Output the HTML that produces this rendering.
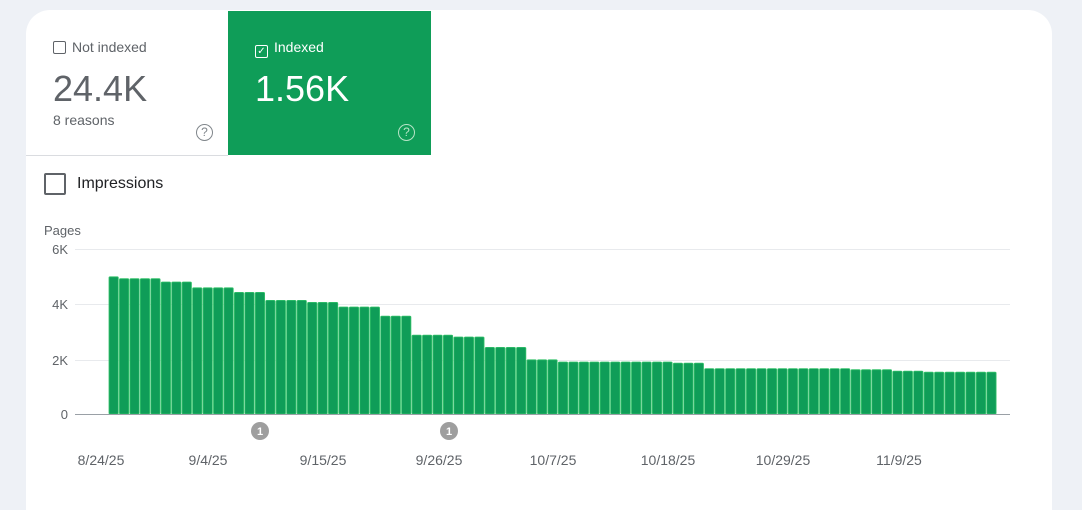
<!DOCTYPE html>
<html><head><style>
html,body{margin:0;padding:0;width:1082px;height:492px;background:#eef1f6;overflow:hidden;font-family:"Liberation Sans",Arial,sans-serif}
.card{position:absolute;left:26px;top:10px;width:1026px;height:500px;background:#fff;border-radius:24px 24px 0 0;overflow:hidden}
.tab{position:absolute;top:1px;height:144px;width:202px}
.t1{left:0;border-bottom:1px solid #dadce0;height:144px;width:202px}
.t2{left:202px;background:#0f9d58;color:#fff;width:203px}
.lbl{position:absolute;left:27px;top:28px;font-size:14px;color:#5f6368}
.cb{display:inline-block;width:11px;height:11px;border:1.5px solid #5f6368;border-radius:2px;vertical-align:-2px;margin-right:6px}
.big{position:absolute;left:27px;top:57px;font-size:36px;color:#5f6368}
.sub{position:absolute;left:27px;top:101px;font-size:14px;color:#5f6368}
.q{position:absolute;left:170px;top:113px;width:15px;height:15px;border:1.5px solid #80868b;border-radius:50%;font-size:12px;line-height:15px;text-align:center;color:#80868b}
</style></head><body>
<div class="card">
<div class="tab t1"><div class="lbl"><span class="cb"></span>Not indexed</div><div class="big">24.4K</div><div class="sub">8 reasons</div><div class="q">?</div></div>
<div class="tab t2"><div class="lbl" style="color:#fff"><span class="cb" style="border-color:#fff;font-size:10px;line-height:11px;text-align:center">✓</span>Indexed</div><div class="big" style="color:#fff">1.56K</div><div class="q" style="border-color:#b7e4c7;color:#b7e4c7">?</div></div>
</div>
<div style="position:absolute;left:44px;top:173px;width:18px;height:18px;border:2px solid #5f6368;border-radius:2px"></div>
<div style="position:absolute;left:77px;top:175px;font-size:16px;color:#202124">Impressions</div>
<svg style="position:absolute;left:0;top:0" width="1082" height="492" font-family="Liberation Sans,Arial,sans-serif">
<text x="44" y="235" font-size="13" fill="#5f6368">Pages</text>
<g stroke="#e8eaed" stroke-width="1"><line x1="75" x2="1010" y1="249.5" y2="249.5"/><line x1="75" x2="1010" y1="304.5" y2="304.5"/><line x1="75" x2="1010" y1="360.5" y2="360.5"/></g>
<g font-size="13" fill="#5f6368" text-anchor="end"><text x="68" y="254">6K</text><text x="68" y="309">4K</text><text x="68" y="365">2K</text><text x="68" y="419">0</text></g>
<g id="bars" fill="#0f9d58" stroke="#34c26a" stroke-width="0.8"></g>
<line x1="75" x2="1010" y1="414.5" y2="414.5" stroke="#9aa0a6"/>
<g fill="#9e9e9e"><circle cx="260" cy="431" r="9"/><circle cx="449" cy="431" r="9"/></g>
<g fill="#fff" font-size="11" text-anchor="middle" font-weight="bold"><text x="260" y="435">1</text><text x="449" y="435">1</text></g>
<g font-size="14" fill="#5f6368" text-anchor="middle">
<text x="101" y="465">8/24/25</text><text x="208" y="465">9/4/25</text><text x="323" y="465">9/15/25</text><text x="439" y="465">9/26/25</text><text x="553" y="465">10/7/25</text><text x="668" y="465">10/18/25</text><text x="783" y="465">10/29/25</text><text x="899" y="465">11/9/25</text></g>
</svg>
<script>
var seg=[[1,4.99],[4,4.92],[3,4.8],[4,4.59],[3,4.42],[4,4.13],[3,4.06],[4,3.89],[3,3.56],[4,2.87],[3,2.8],[4,2.42],[3,1.97],[11,1.89],[3,1.85],[14,1.65],[4,1.61],[3,1.56],[7,1.52]];
var g=document.getElementById('bars'),i=0,s='';
seg.forEach(function(a){for(var k=0;k<a[0];k++){var x=109+i*10.45,h=a[1]*27.5;s+='<rect x="'+x.toFixed(2)+'" y="'+(414-h).toFixed(1)+'" width="9.3" height="'+h.toFixed(1)+'" rx="1"/>';i++;}});
g.innerHTML=s;
</script>
</body></html>
